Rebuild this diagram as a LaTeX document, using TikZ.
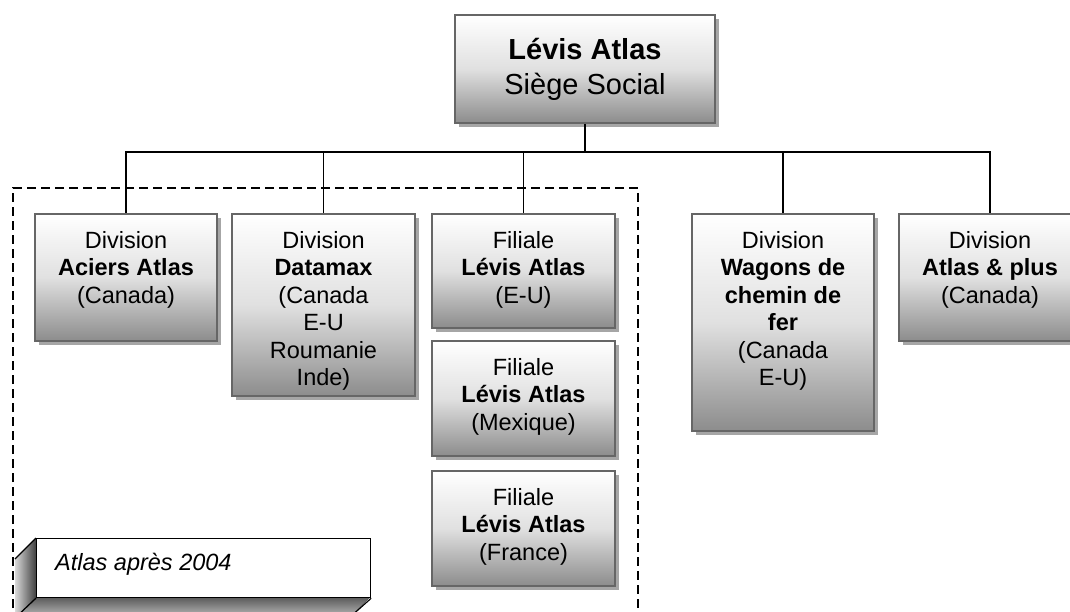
\documentclass[tikz,border=0pt]{standalone}
\usepackage{fontspec}
\setmainfont{Liberation Sans}
\usetikzlibrary{positioning,shadows}

\begin{document}
\begin{tikzpicture}[x=1pt,y=-1pt,
  unit/.style={draw=black!60,line width=1.8pt,top color=white,bottom color=black!45,middle color=black!12,
    drop shadow={shadow xshift=4pt,shadow yshift=-4pt,fill=black!35,opacity=1},
    minimum width=182pt,anchor=north,inner sep=0pt},
  boxtext/.style={align=center,inner sep=0pt,font=\fontsize{23.5}{27.5}\selectfont},
  link/.style={line width=1.5pt}]
\useasboundingbox (0,0) rectangle (1070,612);
\clip (0,0) rectangle (1070,612);
% zone apres 2004
\draw[line width=1.5pt,dash pattern=on 9pt off 5pt] (13,650) |- (638,188) -- (638,650);
% siege
\node[unit,minimum width=260pt,minimum height=108pt,align=center,font=\fontsize{29}{35}\selectfont]
  (siege) at (585,14) {\textbf{Lévis Atlas}\\Siège Social};
% divisions et filiales
\node[unit,minimum height=127pt] (aciers) at (126,213) {};
\node[boxtext,below=18pt of aciers.north] {Division\\\textbf{Aciers Atlas}\\(Canada)};
\node[unit,minimum width=183pt,minimum height=182pt] (datamax) at (323.5,213) {};
\node[boxtext,below=18pt of datamax.north] {Division\\\textbf{Datamax}\\(Canada\\E-U\\Roumanie\\Inde)};
\node[unit,minimum width=183pt,minimum height=114pt] (filEU) at (523.5,213) {};
\node[boxtext,below=18pt of filEU.north] {Filiale\\\textbf{Lévis Atlas}\\(E-U)};
\node[unit,minimum width=183pt,minimum height=115pt] (filMX) at (523.5,340) {};
\node[boxtext,below=18pt of filMX.north] {Filiale\\\textbf{Lévis Atlas}\\(Mexique)};
\node[unit,minimum width=183pt,minimum height=115pt] (filFR) at (523.5,470) {};
\node[boxtext,below=18pt of filFR.north] {Filiale\\\textbf{Lévis Atlas}\\(France)};
\node[unit,minimum height=217pt] (wagons) at (783,213) {};
\node[boxtext,below=18pt of wagons.north] {Division\\\textbf{Wagons de}\\\textbf{chemin de}\\\textbf{fer}\\(Canada\\E-U)};
\node[unit,minimum height=127pt] (plus) at (990,213) {};
\node[boxtext,below=18pt of plus.north] {Division\\\textbf{Atlas \& plus}\\(Canada)};
% liens
\coordinate (bus) at (585,152);
\draw[link] (siege.south) -- (bus);
\foreach \n in {aciers,datamax,filEU,wagons,plus}
  \draw[link] (\n.north) |- (bus);
% legende
\fill[left color=black!15,right color=black!75] (36,538) -- (15,559) -- (15,618) -- (36,597) -- cycle;
\fill[top color=black!65,bottom color=black!25] (36,597) -- (370,597) -- (349,618) -- (15,618) -- cycle;
\node[draw,line width=1.2pt,fill=white,minimum width=334pt,minimum height=59pt,anchor=north west,inner sep=0pt]
  (legend) at (36,538) {};
\draw[line width=1.2pt] (legend.north west) -- (15,559) (legend.south west) -- (15,618) (legend.south east) -- (349,618);
\node[anchor=west,inner sep=0pt,font=\itshape\fontsize{23.5}{27}\selectfont]
  at ([xshift=19pt,yshift=4pt]legend.west) {Atlas après 2004};
\end{tikzpicture}
\end{document}
